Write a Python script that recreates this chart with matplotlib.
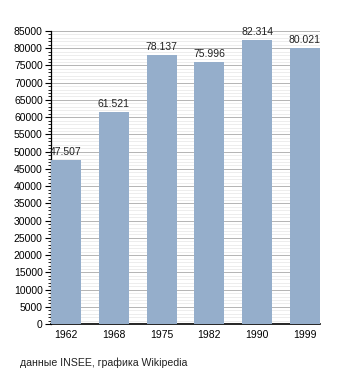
import matplotlib
matplotlib.use("Agg")
import matplotlib.pyplot as plt
from matplotlib.ticker import MultipleLocator

years = ["1962", "1968", "1975", "1982", "1990", "1999"]
population = [47507, 61521, 78137, 75996, 82314, 80021]
labels = ["47.507", "61.521", "78.137", "75.996", "82.314", "80.021"]

BAR = "#95aecb"
plt.rcParams["font.family"] = ["Liberation Sans", "DejaVu Sans"]

fig = plt.figure(figsize=(3.5, 3.73), dpi=100)
ax = fig.add_axes([0.146, 0.131, 0.768, 0.786])

x = range(len(years))
ax.bar(x, population, width=0.625, color=BAR, zorder=3)
for xi, v, lab in zip(x, population, labels):
    ax.text(xi, v + 900, lab, ha="center", va="bottom", fontsize=7.5, color="#222222", zorder=4)

ax.set_xlim(-0.3125, 5.3125)
ax.set_ylim(0, 85000)
ax.yaxis.set_major_locator(MultipleLocator(5000))
ax.yaxis.set_minor_locator(MultipleLocator(1000))
ax.grid(which="major", axis="y", color="#b4b4b4", linewidth=0.7, zorder=1)
ax.grid(which="minor", axis="y", color="#e6e6e6", linewidth=0.5, zorder=1)
ax.set_xticks(list(x))
ax.set_xticklabels(years)
ax.tick_params(axis="x", length=0, labelsize=7.5, pad=4)
ax.tick_params(axis="y", which="major", length=4, width=0.8, labelsize=7.5, pad=2)
ax.tick_params(axis="y", which="minor", length=2, width=0.6)
for s in ("top", "right"):
    ax.spines[s].set_visible(False)
ax.spines["left"].set_linewidth(0.9)
ax.spines["bottom"].set_linewidth(1.2)

fig.text(0.057, 0.02, "данные INSEE, графика Wikipedia", fontsize=7.6, color="#222222")

fig.savefig("out.png", dpi=100)
